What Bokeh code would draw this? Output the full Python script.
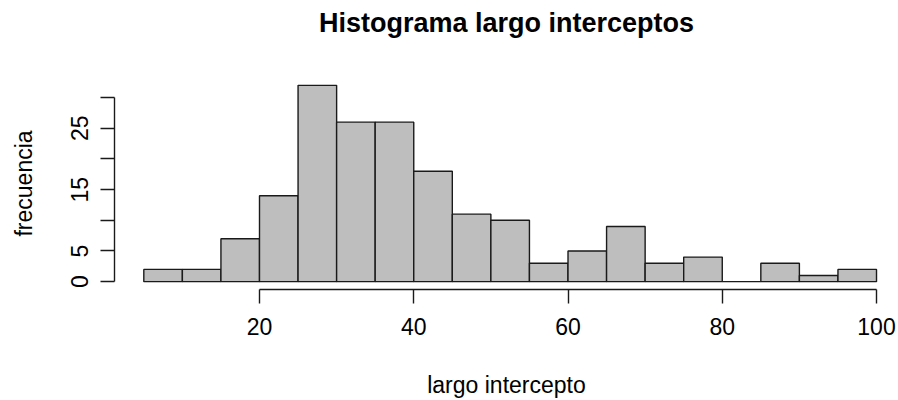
from bokeh.plotting import figure
from bokeh.models import Range1d, FixedTicker
from bokeh.embed import file_html
from bokeh.resources import INLINE

# ---- data (bin width 5) ----
bin_left = [5, 10, 15, 20, 25, 30, 35, 40, 45, 50, 55, 60, 65, 70, 75, 80, 85, 90, 95]
bin_right = [10, 15, 20, 25, 30, 35, 40, 45, 50, 55, 60, 65, 70, 75, 80, 85, 90, 95, 100]
counts = [2, 2, 7, 14, 32, 26, 26, 18, 11, 10, 3, 5, 9, 3, 4, 0, 3, 1, 2]

x_ticks = [20, 40, 60, 80, 100]
y_ticks = [0, 5, 10, 15, 20, 25, 30]
y_tick_labels = ["0", "5", "", "15", "", "25", ""]

title_text = "Histograma largo interceptos"
x_label = "largo intercepto"
y_label = "frecuencia"

FONT = "Liberation Sans"
INK = "#1a1a1a"

p = figure(
    width=898, height=400,
    output_backend="svg", toolbar_location=None,
    x_range=Range1d(1.2, 102.85), y_range=Range1d(-1.28, 33.28),
    min_border_left=114, min_border_right=0,
    min_border_top=77, min_border_bottom=111,
    title=title_text,
)
p.outline_line_color = None
p.xgrid.visible = False
p.ygrid.visible = False
p.background_fill_color = "white"
p.border_fill_color = "white"

p.title.align = "center"
p.title.text_font = FONT
p.title.text_font_size = "27px"
p.title.text_font_style = "bold"
p.title.text_color = "black"
p.title.vertical_align = "bottom"
p.title.standoff = 0
p.title.padding = (0, 0, 0, 40)

p.quad(left=bin_left, right=bin_right, bottom=0, top=counts,
       fill_color="#bebebe", line_color=INK, line_width=1.4)

xa = p.below[0]
ya = p.left[0]
for ax in (xa, ya):
    ax.axis_line_color = INK
    ax.axis_line_width = 1.4
    ax.major_tick_line_color = INK
    ax.major_tick_line_width = 1.4
    ax.major_tick_out = 14
    ax.major_tick_in = 0
    ax.minor_tick_line_color = None
    ax.major_label_text_font = FONT
    ax.major_label_text_font_size = "23px"
    ax.major_label_text_color = "black"
    ax.axis_label_text_font = FONT
    ax.axis_label_text_font_size = "23px"
    ax.axis_label_text_font_style = "normal"
    ax.axis_label_text_color = "black"

xa.ticker = FixedTicker(ticks=x_ticks)
xa.bounds = (x_ticks[0], x_ticks[-1])
xa.major_label_standoff = 14
xa.axis_label = x_label
xa.axis_label_standoff = 34

ya.ticker = FixedTicker(ticks=y_ticks)
ya.bounds = (y_ticks[0], y_ticks[-1])
ya.major_label_overrides = {t: lab for t, lab in zip(y_ticks, y_tick_labels)}
ya.major_label_orientation = "vertical"
ya.major_label_standoff = 12
ya.axis_label = y_label
ya.axis_label_standoff = 32

open("out.html", "w").write(file_html(p, INLINE))
